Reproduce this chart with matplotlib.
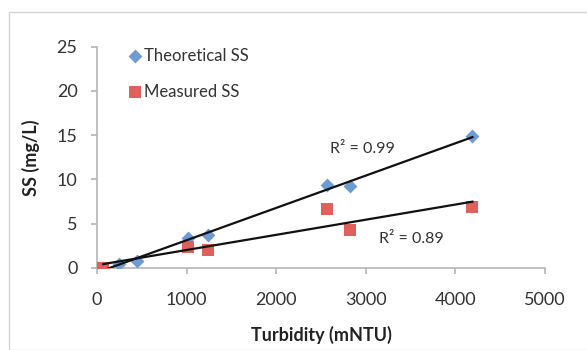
import numpy as np
import matplotlib
matplotlib.use("Agg")
import matplotlib.pyplot as plt
from matplotlib.patches import Rectangle

# Data
theo_x = [70, 250, 450, 1020, 1240, 2565, 2825, 4190]
theo_y = [0.0, 0.5, 0.8, 3.4, 3.7, 9.4, 9.2, 14.9]
meas_x = [70, 1020, 1240, 2565, 2825, 4190]
meas_y = [0.0, 2.4, 2.0, 6.7, 4.3, 6.9]
series_names = ["Theoretical SS", "Measured SS"]
r2_labels = ["R² = 0.99", "R² = 0.89"]
x_ticks = [0, 1000, 2000, 3000, 4000, 5000]
y_ticks = [0, 5, 10, 15, 20, 25]

plt.rcParams['font.family'] = ['Lato', 'DejaVu Sans']

fig = plt.figure(figsize=(5.87, 3.5), dpi=100)
W, H = 587, 350
# outer chart frame
fig.patches.append(Rectangle((9 / W, 0), 1.0, 1 - 12 / H, transform=fig.transFigure,
                             fill=False, edgecolor='#d4d4d4', linewidth=1.0))

ax = fig.add_axes([97 / W, 1 - 268 / H, (545 - 97) / W, (268 - 46.5) / H])

blue = '#6E9BD4'
red = '#E0605C'

ax.scatter(theo_x, theo_y, marker='D', s=50, color=blue, zorder=3, label=series_names[0], linewidths=0)
ax.scatter(meas_x, meas_y, marker='s', s=72, color=red, zorder=3, label=series_names[1], linewidths=0)

for xs, ys in [(theo_x, theo_y), (meas_x, meas_y)]:
    k, b = np.polyfit(xs, ys, 1)
    xx = np.array([min(xs), max(xs)])
    ax.plot(xx, k * xx + b, color='#111111', linewidth=1.6, zorder=4)

ax.text(2960, 13.4, r2_labels[0], fontsize=11.5, color='#333333', ha='center', va='center')
ax.text(3505, 3.3, r2_labels[1], fontsize=11.5, color='#333333', ha='center', va='center')

ax.set_xlim(0, 5000)
ax.set_ylim(0, 25)
ax.set_xticks(x_ticks)
ax.set_yticks(y_ticks)
for s in ['top', 'right']:
    ax.spines[s].set_visible(False)
for s in ['left', 'bottom']:
    ax.spines[s].set_color('#b5b5b5')
    ax.spines[s].set_linewidth(1.2)
ax.tick_params(axis='both', colors='#b5b5b5', length=4, width=1.2, labelcolor='#333333', labelsize=13)
ax.tick_params(axis='x', pad=13)
ax.tick_params(axis='y', pad=10)

ax.set_xlabel('Turbidity (mNTU)', fontsize=13, fontweight='bold', color='#222222', labelpad=13)
ax.set_ylabel('SS (mg/L)', fontsize=13, fontweight='bold', color='#222222', labelpad=12)

leg = ax.legend(loc='upper left', bbox_to_anchor=(0.052, 1.025), frameon=False, fontsize=12,
                handletextpad=0.0, labelspacing=1.2, handlelength=1.0, borderaxespad=0)
for t in leg.get_texts():
    t.set_color('#333333')

fig.savefig('out.png', dpi=100)
